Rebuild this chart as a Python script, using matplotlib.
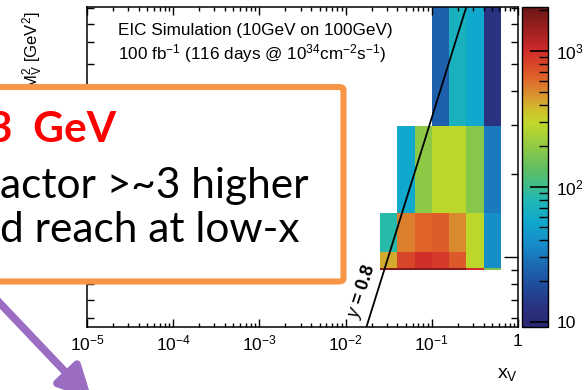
import numpy as np
import matplotlib
matplotlib.use("Agg")
import matplotlib.pyplot as plt
from matplotlib.colors import LinearSegmentedColormap, LogNorm
from matplotlib.ticker import LogLocator, FuncFormatter, NullFormatter
from matplotlib.patches import FancyBboxPatch

plt.rcParams["font.family"] = ["Liberation Sans", "DejaVu Sans"]
plt.rcParams["mathtext.fontset"] = "custom"
plt.rcParams["mathtext.rm"] = "Liberation Sans"
plt.rcParams["mathtext.it"] = "Liberation Sans:italic"
plt.rcParams["mathtext.bf"] = "Liberation Sans:bold"

# ---- data -------------------------------------------------------------
# bin edges in log10(x_V) and in Q^2 + M_V^2 [GeV^2]
log_x_edges = [-1.6, -1.4, -1.2, -1.0, -0.8, -0.6, -0.4, -0.2]
q2_edges = [89.8, 91.3, 104.3, 144.4, 298.5, 1000.0]
# event counts per bin (rows follow q2_edges from low to high, 0 = empty)
counts = [
    [1700, 1700, 1700, 1700, 1700, 1000, 170],
    [415, 800, 980, 890, 690, 283, 39],
    [84, 535, 630, 680, 500, 283, 39],
    [0, 55, 195, 283, 283, 180, 31],
    [0, 0, 0, 24, 69, 55, 13],
]
e_lepton = 10.0    # GeV
e_proton = 100.0   # GeV
y_cut = 0.8
x_ticks = [1e-5, 1e-4, 1e-3, 1e-2, 1e-1, 1]
z_ticks = [10, 100, 1000]

# ---- palette ----------------------------------------------------------
stops = [
    (0.000, "#2a2870"), (0.0625, "#2a3282"), (0.125, "#204a9a"),
    (0.1875, "#1c66b0"), (0.250, "#1888c8"), (0.328, "#10a8cc"),
    (0.397, "#20b8b4"), (0.444, "#40bc88"), (0.500, "#64be60"),
    (0.575, "#98cc40"), (0.6375, "#c0d82a"), (0.678, "#cfc02c"),
    (0.719, "#d89a30"), (0.781, "#e0622a"), (0.866, "#d02a2a"),
    (0.928, "#a02020"), (1.000, "#6a1616"),
]
cmap = LinearSegmentedColormap.from_list("palette", stops)
norm = LogNorm(vmin=9.19, vmax=2113)

W, H = 588, 390
fig = plt.figure(figsize=(W / 100, H / 100), dpi=100)
fig.patch.set_facecolor("white")


def fx(px):
    return px / W


def fy(py):
    return 1 - py / H


ax = fig.add_axes([fx(87), fy(327), fx(518) - fx(87), fy(7) - fy(327)])
cax = fig.add_axes([fx(522), fy(327), fx(548) - fx(522), fy(7) - fy(327)])

xe = 10.0 ** np.array(log_x_edges)
ye = np.array(q2_edges)
c = np.ma.masked_equal(np.array(counts, dtype=float), 0)
mesh = ax.pcolormesh(xe, ye, c, cmap=cmap, norm=norm, shading="flat",
                     linewidth=0, antialiased=False)

# kinematic limit Q^2 = s x y
s = 4 * e_lepton * e_proton
xl = np.logspace(-5, 0, 300)
ax.plot(xl, s * xl * y_cut, color="black", lw=1.3, zorder=3)

ax.set_xscale("log")
ax.set_yscale("log")
ax.set_xlim(1e-5, 1)
ax.set_ylim(55.8, 805)


def dec_fmt(v, pos=None):
    if abs(v - 1) < 1e-9:
        return "1"
    if abs(v - 10) < 1e-9:
        return "10"
    return r"$\mathdefault{10^{%d}}$" % int(round(np.log10(v)))


ax.xaxis.set_minor_locator(LogLocator(base=10, subs=np.arange(2, 10), numticks=20))
ax.set_xticks(x_ticks)
ax.xaxis.set_major_formatter(FuncFormatter(dec_fmt))
ax.xaxis.set_minor_formatter(NullFormatter())
ax.yaxis.set_major_locator(LogLocator(base=10, numticks=20))
ax.yaxis.set_minor_locator(LogLocator(base=10, subs=np.arange(2, 10), numticks=20))
ax.yaxis.set_major_formatter(FuncFormatter(dec_fmt))
ax.yaxis.set_minor_formatter(NullFormatter())

ax.tick_params(axis="x", which="major", direction="in", length=5.8, width=1.0,
               top=True, bottom=True, labelsize=12.5, pad=5)
ax.tick_params(axis="x", which="minor", direction="in", length=3.0, width=1.0,
               top=True, bottom=True)
ax.tick_params(axis="y", which="major", direction="in", length=10, width=1.0,
               left=True, right=True, labelsize=12.5)
ax.tick_params(axis="y", which="minor", direction="in", length=5.2, width=1.0,
               left=True, right=True)
for sp in ax.spines.values():
    sp.set_linewidth(1.1)

ax.set_ylabel(r"$\mathdefault{Q^2 + M_V^2}$ [GeV$^\mathdefault{2}$]",
              fontsize=12, loc="top")
ax.yaxis.label.set_va("center")
ax.yaxis.set_label_coords(-0.125, 0.985)

# colour scale
cb = fig.colorbar(mesh, cax=cax)
cb.outline.set_linewidth(1.0)
cax.yaxis.set_ticks_position("right")
cax.yaxis.set_minor_locator(LogLocator(base=10, subs=np.arange(2, 10), numticks=20))
cax.set_yticks(z_ticks)
cax.yaxis.set_major_formatter(FuncFormatter(dec_fmt))
cax.yaxis.set_minor_formatter(NullFormatter())
cax.tick_params(which="major", direction="in", length=13, width=1.2,
                labelsize=12.5, pad=6)
cax.tick_params(which="minor", direction="in", length=6.5, width=1.0)

# header text inside the frame
fig.text(fx(118), fy(35), "EIC Simulation (10GeV on 100GeV)", fontsize=12.3,
         ha="left", va="baseline")
fig.text(fx(118), fy(59),
         r"100 fb$^{\mathdefault{-1}}$ (116 days @ 10$^{\mathdefault{34}}$"
         r"cm$^{\mathdefault{-2}}$s$^{\mathdefault{-1}}$)",
         fontsize=12.3, ha="left", va="baseline")

fig.text(fx(518), fy(378), r"x$_\mathdefault{V}$", fontsize=14, ha="right",
         va="baseline")

fig.text(fx(362), fy(292), r"$\mathdefault{\mathit{y}}$ = 0.8", fontsize=13,
         fontweight="bold", rotation=72, rotation_mode="anchor",
         ha="center", va="center")

# call-out box
box = FancyBboxPatch((fx(-30), fy(281.5)), fx(343.5) - fx(-30),
                     fy(87) - fy(281.5),
                     boxstyle="round,pad=0,rounding_size=0.008",
                     transform=fig.transFigure, facecolor="white",
                     edgecolor="#F79646", linewidth=4.4, zorder=10)
fig.add_artist(box)

fig.text(fx(-12), fy(142), "3  GeV", fontsize=30.5, fontweight="bold",
         color="#FF0000", family="Lato", ha="left", va="baseline", zorder=11)
fig.text(fx(0), fy(198), "actor >~3 higher", fontsize=30.5, family="Lato",
         color="black", ha="left", va="baseline", zorder=11)
fig.text(fx(0), fy(242), "d reach at low-x", fontsize=30.5, family="Lato",
         color="black", ha="left", va="baseline", zorder=11)

# arrow pointing down-right
fig.add_artist(plt.Annotation(
    "", xy=(fx(92), fy(400)), xytext=(fx(-6), fy(297)),
    xycoords="figure fraction", textcoords="figure fraction",
    arrowprops=dict(arrowstyle="-|>,head_length=1.0,head_width=0.5",
                    lw=5.5, color="#9B6DC2", shrinkA=0, shrinkB=0,
                    mutation_scale=20),
    zorder=12))

fig.savefig("out.png", dpi=100)
